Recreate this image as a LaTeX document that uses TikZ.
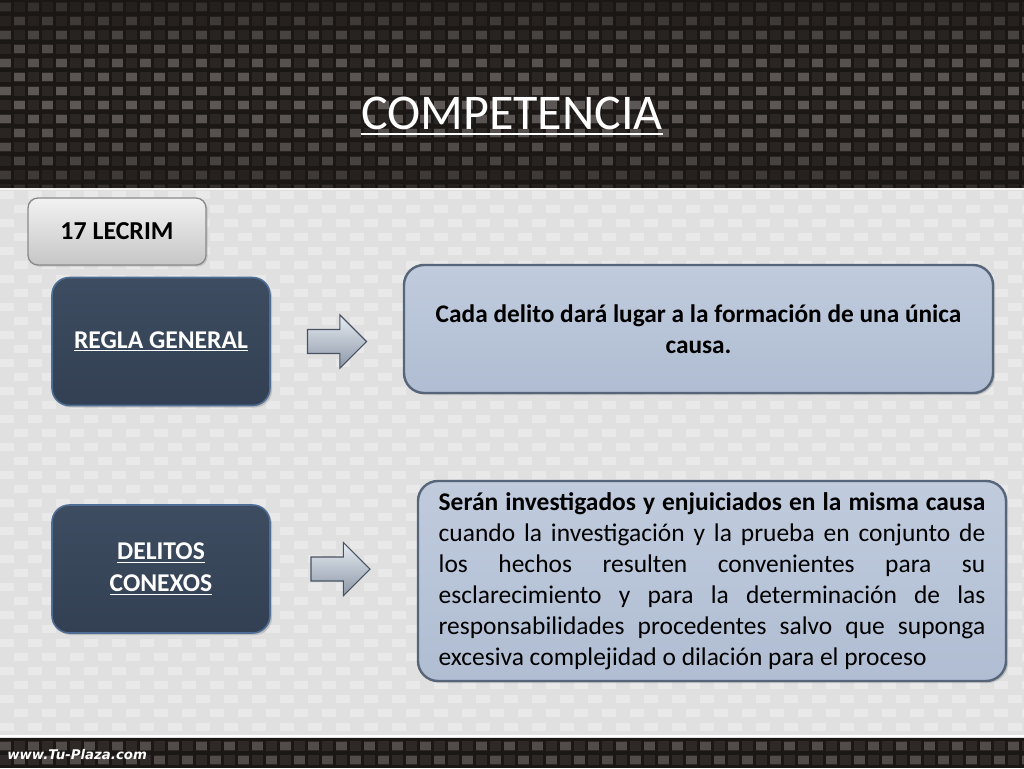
\documentclass[tikz,border=0pt]{standalone}
\usepackage{fontspec}
\setmainfont{Carlito}
\newfontfamily\webfont{DejaVu Sans}
\usetikzlibrary{shapes.arrows,shadows}
\definecolor{carbonbase}{HTML}{1A1715}
\definecolor{carbonmid}{HTML}{2E2927}
\definecolor{carbonhi}{HTML}{6E6865}
\definecolor{lightbase}{HTML}{E0E0E0}
\definecolor{lighthi}{HTML}{E9E9E9}
\definecolor{navytop}{HTML}{3D4C60}
\definecolor{navybot}{HTML}{334053}
\definecolor{navyedge}{HTML}{4F6E95}
\definecolor{palebluetop}{HTML}{C0CBDD}
\definecolor{palebluebot}{HTML}{B0BDD2}
\definecolor{paleedge}{HTML}{56657A}
\definecolor{arrowtop}{HTML}{E6ECF3}
\definecolor{arrowbot}{HTML}{8C97A6}
\definecolor{arrowedge}{HTML}{495262}
\definecolor{graytop}{HTML}{F2F2F2}
\definecolor{graybot}{HTML}{C6C6C6}
\definecolor{grayedge}{HTML}{8A8A8A}
\tikzset{
  darkbox/.style={rounded corners=13pt, draw=navyedge, line width=1.2pt,
    top color=navytop, bottom color=navybot, text=white,
    minimum width=163.5pt, minimum height=96pt, align=center,
    font=\bfseries\fontsize{19.2}{24}\selectfont,
    drop shadow={opacity=0.35, shadow xshift=1.5pt, shadow yshift=-1.5pt}},
  bluebox/.style={rounded corners=15pt, draw=paleedge, line width=1.8pt,
    top color=palebluetop, bottom color=palebluebot,
    drop shadow={opacity=0.35, shadow xshift=1.5pt, shadow yshift=-1.5pt}},
  graybox/.style={rounded corners=7.5pt, draw=grayedge, line width=1pt,
    top color=graytop, bottom color=graybot,
    minimum width=133.5pt, minimum height=50.25pt,
    font=\bfseries\fontsize{19.4}{23}\selectfont,
    drop shadow={opacity=0.3, shadow xshift=1.2pt, shadow yshift=-1.2pt}},
  arrowshape/.style={single arrow, draw=arrowedge, line width=0.8pt,
    top color=arrowtop, bottom color=arrowbot,
    minimum height=44.25pt, inner xsep=0pt, inner ysep=8.6pt,
    single arrow head extend=11pt},
  carbonmidrow/.style={line width=7.5pt, dash pattern=on 8.5pt off 2pt},
  carbonrow/.style={line width=5.5pt, dash pattern=on 8.5pt off 12.5pt},
  lightrow/.style={line width=6pt, color=lighthi, dash pattern=on 10.5pt off 10.5pt}
}
\begin{document}
\begin{tikzpicture}[x=0.75pt,y=-0.75pt]
\useasboundingbox (0,0) rectangle (1024,768);
% top carbon band
\fill[carbonbase] (0,0) rectangle (1024,188);
\foreach \j in {0,...,13} {
  \pgfmathsetmacro\ph{mod(\j,2)*10.5}
  \pgfmathsetmacro\br{int(25+55*sin(180*(\j+0.5)/14))}
  \pgfmathsetmacro\bm{int(45+40*sin(180*(\j+0.5)/14))}
  \draw[carbonmidrow, color=carbonmid!\bm!carbonbase, dash phase=\ph pt] (0,{7+14*\j}) -- (1024,{7+14*\j});
  \draw[carbonrow, color=carbonhi!\br!carbonbase, dash phase=\ph pt] (0,{7+14*\j}) -- (1024,{7+14*\j});
}
% light area
\fill[lightbase] (0,188) rectangle (1024,738);
\foreach \j in {0,...,38} {
  \pgfmathsetmacro\ph{mod(\j,2)*10.5}
  \draw[lightrow, dash phase=\ph pt] (0,{195+14*\j}) -- (1024,{195+14*\j});
}
\fill[lightbase] (0,733) rectangle (1024,738);
\draw[white, line width=1.2pt] (0,736) -- (1024,736);
\draw[white!60!lightbase, line width=1pt] (0,189) -- (1024,189);
% bottom carbon band
\fill[carbonbase] (0,738) rectangle (1024,768);
\foreach \j in {0,1} {
  \pgfmathsetmacro\ph{mod(\j,2)*10.5}
  \draw[carbonmidrow, color=carbonmid, dash phase=\ph pt] (0,{746+14*\j}) -- (1024,{746+14*\j});
  \draw[carbonrow, color=carbonhi!65!carbonbase, dash phase=\ph pt] (0,{746+14*\j}) -- (1024,{746+14*\j});
}
\node[anchor=west, text=white, font=\webfont\bfseries\itshape\fontsize{10}{12}\selectfont, inner sep=0pt] (web) at (7,755) {www.Tu-Plaza.com};

% title
\node[text=white, font=\fontsize{37.5}{44}\selectfont, inner sep=0pt] (title) at (512,113) {COMPETENCIA};
\draw[white, line width=2pt] ([yshift=-3.8pt]title.base west) -- ([yshift=-3.8pt]title.base east);

% boxes
\node[graybox] (lecrim) at (117,231.5) {17 LECRIM};
\node[darkbox] (regla) at (161,341.5) {\underline{REGLA GENERAL}};
\node[darkbox] (conexos) at (161,569) {\underline{DELITOS}\\\underline{CONEXOS}};

\node[arrowshape] (arr1) at (331,341.5) {};
\node[arrowshape] (arr2) at (334.5,569) {};

\node[bluebox, minimum width=441.75pt, minimum height=96pt, align=center,
  font=\bfseries\fontsize{19}{23}\selectfont] (causa) at (698.5,329)
  {Cada delito dará lugar a la formación de una única\\causa.};

\node[bluebox, minimum width=441pt, minimum height=150pt, text width=410pt, align=justify,
  font=\fontsize{19.1}{23.25}\selectfont] (conexidad) at (712,581)
  {\textbf{Serán investigados y enjuiciados en la misma causa}\linebreak
   cuando la investigación y la prueba en conjunto de\linebreak
   los hechos resulten convenientes para su\linebreak
   esclarecimiento y para la determinación de las\linebreak
   responsabilidades procedentes salvo que suponga\linebreak
   excesiva complejidad o dilación para el proceso};
\end{tikzpicture}
\end{document}
